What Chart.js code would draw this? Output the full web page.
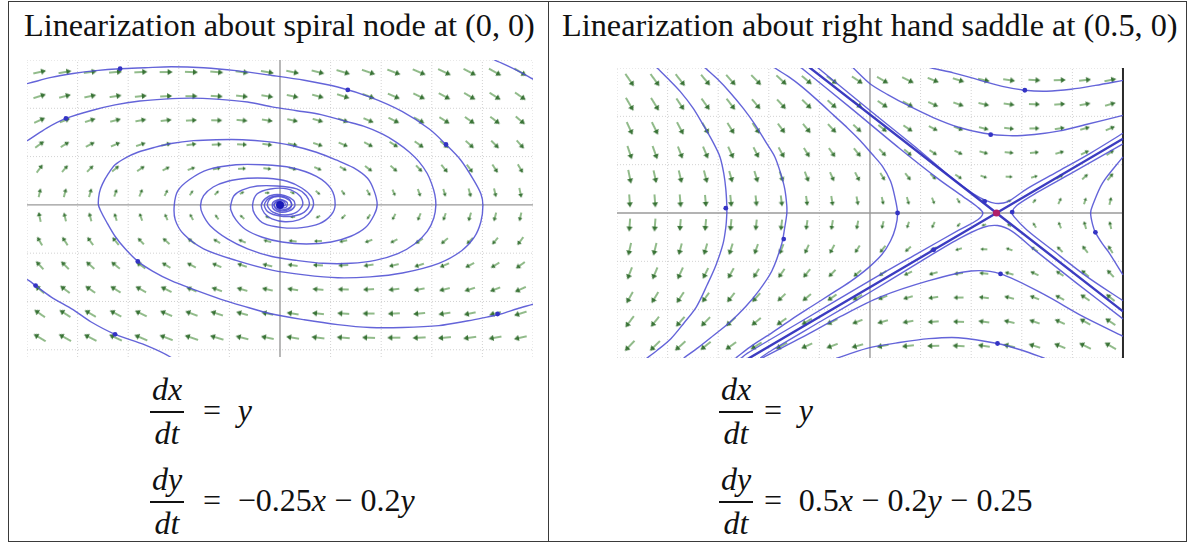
<!DOCTYPE html>
<html>
<head>
<meta charset="utf-8">
<script src="https://cdn.jsdelivr.net/npm/chart.js@4.4.1/dist/chart.umd.min.js"></script>
<style>
html,body{margin:0;padding:0;background:#fff;}
#page{position:relative;width:1193px;height:543px;overflow:hidden;background:#fff;}
.ln{position:absolute;background:#3a3a3a;}
.txt{position:absolute;white-space:nowrap;line-height:1;color:#111;font-family:"Liberation Serif","Times New Roman",serif;}
.txt i{font-style:italic;}
.op{margin:0 0.26em;}
.bar{position:absolute;background:#111;height:1.6px;}
canvas{position:absolute;}
</style>
</head>
<body>
<div id="page">
  <div class="ln" style="left:8px;top:1px;width:1179px;height:1px"></div>
  <div class="ln" style="left:8px;top:541px;width:1179px;height:1px"></div>
  <div class="ln" style="left:8px;top:1px;width:1px;height:541px"></div>
  <div class="ln" style="left:1186px;top:1px;width:1px;height:541px"></div>
  <div class="ln" style="left:548px;top:1px;width:1px;height:541px"></div>
  <div id="t1" class="txt">Linearization about spiral node at (0, 0)</div>
  <div id="t2" class="txt">Linearization about right hand saddle at (0.5, 0)</div>
  <canvas id="cL" width="516" height="307" style="left:22px;top:55px"></canvas>
  <canvas id="cR" width="517" height="300" style="left:612px;top:63px"></canvas>
</div>
<script>
// ---------------- DATA ----------------
// Left: direction field grid (x, y) and components (dx/dt, dy/dt) read for each arrow
const leftFieldX = [-4.75,-4.25,-3.75,-3.25,-2.75,-2.25,-1.75,-1.25,-0.75,-0.25,0.25,0.75,1.25,1.75,2.25,2.75,3.25,3.75,4.25,4.75];
const leftFieldY = [2.75,2.25,1.75,1.25,0.75,0.25,-0.25,-0.75,-1.25,-1.75,-2.25,-2.75];
const leftFieldU = [2.75,2.25,1.75,1.25,0.75,0.25,-0.25,-0.75,-1.25,-1.75,-2.25,-2.75];
const leftFieldV = [
 [0.64,0.51,0.39,0.26,0.14,0.01,-0.11,-0.24,-0.36,-0.49,-0.61,-0.74,-0.86,-0.99,-1.11,-1.24,-1.36,-1.49,-1.61,-1.74],
 [0.74,0.61,0.49,0.36,0.24,0.11,-0.01,-0.14,-0.26,-0.39,-0.51,-0.64,-0.76,-0.89,-1.01,-1.14,-1.26,-1.39,-1.51,-1.64],
 [0.84,0.71,0.59,0.46,0.34,0.21,0.09,-0.04,-0.16,-0.29,-0.41,-0.54,-0.66,-0.79,-0.91,-1.04,-1.16,-1.29,-1.41,-1.54],
 [0.94,0.81,0.69,0.56,0.44,0.31,0.19,0.06,-0.06,-0.19,-0.31,-0.44,-0.56,-0.69,-0.81,-0.94,-1.06,-1.19,-1.31,-1.44],
 [1.04,0.91,0.79,0.66,0.54,0.41,0.29,0.16,0.04,-0.09,-0.21,-0.34,-0.46,-0.59,-0.71,-0.84,-0.96,-1.09,-1.21,-1.34],
 [1.14,1.01,0.89,0.76,0.64,0.51,0.39,0.26,0.14,0.01,-0.11,-0.24,-0.36,-0.49,-0.61,-0.74,-0.86,-0.99,-1.11,-1.24],
 [1.24,1.11,0.99,0.86,0.74,0.61,0.49,0.36,0.24,0.11,-0.01,-0.14,-0.26,-0.39,-0.51,-0.64,-0.76,-0.89,-1.01,-1.14],
 [1.34,1.21,1.09,0.96,0.84,0.71,0.59,0.46,0.34,0.21,0.09,-0.04,-0.16,-0.29,-0.41,-0.54,-0.66,-0.79,-0.91,-1.04],
 [1.44,1.31,1.19,1.06,0.94,0.81,0.69,0.56,0.44,0.31,0.19,0.06,-0.06,-0.19,-0.31,-0.44,-0.56,-0.69,-0.81,-0.94],
 [1.54,1.41,1.29,1.16,1.04,0.91,0.79,0.66,0.54,0.41,0.29,0.16,0.04,-0.09,-0.21,-0.34,-0.46,-0.59,-0.71,-0.84],
 [1.64,1.51,1.39,1.26,1.14,1.01,0.89,0.76,0.64,0.51,0.39,0.26,0.14,0.01,-0.11,-0.24,-0.36,-0.49,-0.61,-0.74],
 [1.74,1.61,1.49,1.36,1.24,1.11,0.99,0.86,0.74,0.61,0.49,0.36,0.24,0.11,-0.01,-0.14,-0.26,-0.39,-0.51,-0.64]
];
const leftGridX = [-5,-4,-3,-2,-1,1,2,3,4,5];
const leftGridY = [-3,-2,-1,1,2,3];

// Left trajectories (x, y)
const spiralA = [[-5.05,2.5],[-4.96,2.52],[-4.52,2.64],[-4.09,2.72],[-3.64,2.78],[-3.16,2.82],[-2.67,2.84],[-2.15,2.86],[-1.51,2.84],[-0.87,2.78],[-0.16,2.68],[0.48,2.58],[1.14,2.44],[1.78,2.23],[2.42,1.93],[2.95,1.57],[3.28,1.25],[3.57,0.93],[3.82,0.53],[3.97,0.23],[4.01,-0.01],[3.97,-0.35],[3.84,-0.67],[3.59,-0.95],[3.14,-1.21],[2.42,-1.41],[1.78,-1.49],[1.14,-1.51],[0.48,-1.45],[-0.16,-1.35],[-0.87,-1.15],[-1.51,-0.91],[-1.90,-0.61],[-2.07,-0.31],[-2.09,-0.01],[-2.02,0.29],[-1.78,0.53],[-1.42,0.73],[-0.87,0.83],[-0.35,0.83],[0.23,0.77],[0.72,0.59],[1.01,0.33],[1.09,0.01],[1.01,-0.21],[0.78,-0.39],[0.43,-0.47],[0.04,-0.47],[-0.31,-0.39],[-0.50,-0.19],[-0.54,0.01],[-0.45,0.23],[-0.19,0.33],[0.14,0.33],[0.39,0.19],[0.45,0.01],[0.33,-0.15],[0.10,-0.21],[-0.14,-0.15],[-0.25,-0.01],[-0.19,0.13],[0,0.17],[0.19,0.09],[0.23,-0.01],[0.12,-0.09],[-0.04,-0.09],[-0.12,0.01],[-0.04,0.09],[0.08,0.07],[0.1,-0.01],[0,-0.03]];
const spiralB = [[-5.05,1.3],[-4.96,1.35],[-4.61,1.59],[-4.23,1.79],[-3.74,1.95],[-3.26,2.07],[-2.77,2.15],[-2.29,2.19],[-1.76,2.21],[-1.26,2.19],[-0.64,2.13],[-0.16,2.03],[0.33,1.95],[0.81,1.87],[1.30,1.73],[1.65,1.63],[2.02,1.47],[2.31,1.29],[2.56,1.09],[2.75,0.89],[2.91,0.65],[3.00,0.43],[3.06,0.21],[3.08,-0.01],[3.04,-0.27],[2.91,-0.55],[2.66,-0.81],[2.33,-1.01],[1.88,-1.15],[1.40,-1.21],[0.85,-1.21],[0.33,-1.15],[-0.16,-1.07],[-0.64,-0.91],[-1.03,-0.71],[-1.38,-0.43],[-1.53,-0.19],[-1.57,-0.01],[-1.51,0.19],[-1.32,0.37],[-1.03,0.49],[-0.64,0.55],[-0.25,0.55],[0.14,0.49],[0.43,0.35],[0.62,0.17],[0.66,-0.01],[0.56,-0.19],[0.37,-0.31],[0.10,-0.35],[-0.16,-0.29],[-0.31,-0.17],[-0.37,-0.01],[-0.29,0.13],[-0.12,0.21],[0.10,0.19],[0.27,0.09],[0.29,-0.03],[0.17,-0.13],[0,-0.15],[-0.14,-0.07],[-0.14,0.05],[0,0.11],[0.14,0.05],[0.12,-0.05],[0,-0.07]];
const spiralC = [[5.1,-2.02],[5.02,-2.05],[4.69,-2.15],[4.36,-2.26],[4.01,-2.34],[3.72,-2.40],[3.14,-2.50],[2.42,-2.54],[1.78,-2.54],[1.14,-2.48],[0.48,-2.38],[-0.16,-2.26],[-0.74,-2.09],[-1.18,-1.95],[-1.71,-1.75],[-2.15,-1.57],[-2.52,-1.37],[-2.81,-1.17],[-3.06,-0.91],[-3.26,-0.65],[-3.43,-0.35],[-3.55,-0.11],[-3.59,0.01],[-3.57,0.25],[-3.51,0.43],[-3.39,0.65],[-3.26,0.83],[-3.06,0.97],[-2.81,1.09],[-2.48,1.19],[-2.15,1.27],[-1.71,1.33],[-1.26,1.35],[-0.74,1.35],[-0.25,1.31],[0.23,1.23],[0.72,1.09],[1.11,0.93],[1.45,0.77],[1.73,0.55],[1.86,0.29],[1.92,0.01],[1.86,-0.21],[1.69,-0.47],[1.40,-0.65],[1.01,-0.77],[0.52,-0.81],[0.04,-0.77],[-0.35,-0.67],[-0.68,-0.51],[-0.87,-0.31],[-0.97,-0.11],[-0.97,0.01],[-0.91,0.19],[-0.74,0.31],[-0.45,0.39],[-0.06,0.39],[0.33,0.33],[0.52,0.19],[0.58,0.01],[0.48,-0.15],[0.27,-0.23],[0,-0.23],[-0.23,-0.15],[-0.31,-0.01],[-0.23,0.13],[-0.04,0.19],[0.17,0.13],[0.23,-0.01],[0.14,-0.11],[-0.04,-0.11],[-0.12,-0.01],[-0.04,0.07],[0.08,0.03]];
const cornerBL = [[-2.05,-3.3],[-2.15,-3.16],[-2.67,-2.90],[-3.26,-2.68],[-3.74,-2.42],[-4.09,-2.17],[-4.52,-1.91],[-4.81,-1.69],[-4.96,-1.57],[-5.05,-1.52]];
const cornerTR = [[4.11,3.09],[4.24,3.0],[4.50,2.88],[4.73,2.76],[5.04,2.58],[5.1,2.55]];
const leftStarts = [[-3.16,2.82],[-4.23,1.79],[1.34,2.38],[3.28,1.25],[-4.83,-1.67],[-2.81,-1.17],[-3.26,-2.68],[4.30,-2.26]];
const leftEquilibrium = [[0,0]];

// Right: direction field
const rightFieldX = [-0.95,-0.85,-0.75,-0.65,-0.55,-0.45,-0.35,-0.25,-0.15,-0.05,0.05,0.15,0.25,0.35,0.45,0.55,0.65,0.75,0.85,0.95];
const rightFieldY = [0.55,0.45,0.35,0.25,0.15,0.05,-0.05,-0.15,-0.25,-0.35,-0.45,-0.55];
const rightFieldU = [0.55,0.45,0.35,0.25,0.15,0.05,-0.05,-0.15,-0.25,-0.35,-0.45,-0.55];
const rightFieldV = [
 [-0.835,-0.785,-0.735,-0.685,-0.635,-0.585,-0.535,-0.485,-0.435,-0.385,-0.335,-0.285,-0.235,-0.185,-0.135,-0.085,-0.035,0.015,0.065,0.115],
 [-0.815,-0.765,-0.715,-0.665,-0.615,-0.565,-0.515,-0.465,-0.415,-0.365,-0.315,-0.265,-0.215,-0.165,-0.115,-0.065,-0.015,0.035,0.085,0.135],
 [-0.795,-0.745,-0.695,-0.645,-0.595,-0.545,-0.495,-0.445,-0.395,-0.345,-0.295,-0.245,-0.195,-0.145,-0.095,-0.045,0.005,0.055,0.105,0.155],
 [-0.775,-0.725,-0.675,-0.625,-0.575,-0.525,-0.475,-0.425,-0.375,-0.325,-0.275,-0.225,-0.175,-0.125,-0.075,-0.025,0.025,0.075,0.125,0.175],
 [-0.755,-0.705,-0.655,-0.605,-0.555,-0.505,-0.455,-0.405,-0.355,-0.305,-0.255,-0.205,-0.155,-0.105,-0.055,-0.005,0.045,0.095,0.145,0.195],
 [-0.735,-0.685,-0.635,-0.585,-0.535,-0.485,-0.435,-0.385,-0.335,-0.285,-0.235,-0.185,-0.135,-0.085,-0.035,0.015,0.065,0.115,0.165,0.215],
 [-0.715,-0.665,-0.615,-0.565,-0.515,-0.465,-0.415,-0.365,-0.315,-0.265,-0.215,-0.165,-0.115,-0.065,-0.015,0.035,0.085,0.135,0.185,0.235],
 [-0.695,-0.645,-0.595,-0.545,-0.495,-0.445,-0.395,-0.345,-0.295,-0.245,-0.195,-0.145,-0.095,-0.045,0.005,0.055,0.105,0.155,0.205,0.255],
 [-0.675,-0.625,-0.575,-0.525,-0.475,-0.425,-0.375,-0.325,-0.275,-0.225,-0.175,-0.125,-0.075,-0.025,0.025,0.075,0.125,0.175,0.225,0.275],
 [-0.655,-0.605,-0.555,-0.505,-0.455,-0.405,-0.355,-0.305,-0.255,-0.205,-0.155,-0.105,-0.055,-0.005,0.045,0.095,0.145,0.195,0.245,0.295],
 [-0.635,-0.585,-0.535,-0.485,-0.435,-0.385,-0.335,-0.285,-0.235,-0.185,-0.135,-0.085,-0.035,0.015,0.065,0.115,0.165,0.215,0.265,0.315],
 [-0.615,-0.565,-0.515,-0.465,-0.415,-0.365,-0.315,-0.265,-0.215,-0.165,-0.115,-0.065,-0.015,0.035,0.085,0.135,0.185,0.235,0.285,0.335]
];
const rightGridX = [-1,-0.8,-0.6,-0.4,-0.2,0.2,0.4,0.6,0.8];
const rightGridY = [-0.6,-0.4,-0.2,0.2,0.4,0.6];

// Right trajectories
const stableLine = [[-0.25,0.611],[0.5,0],[1.0,-0.407]];
const unstableLine = [[-0.49,-0.608],[0.5,0],[1.0,0.307]];
const leftArc1 = [[-0.86,0.62],[-0.841,0.6],[-0.795,0.552],[-0.748,0.5],[-0.698,0.432],[-0.659,0.364],[-0.62,0.292],[-0.593,0.232],[-0.578,0.164],[-0.57,0.1],[-0.566,0.032],[-0.566,-0.004],[-0.57,-0.06],[-0.581,-0.128],[-0.609,-0.216],[-0.643,-0.296],[-0.686,-0.388],[-0.736,-0.456],[-0.787,-0.52],[-0.841,-0.568],[-0.891,-0.608]];
const leftArc2 = [[-0.67,0.62],[-0.651,0.6],[-0.601,0.552],[-0.554,0.5],[-0.5,0.432],[-0.453,0.364],[-0.411,0.292],[-0.376,0.232],[-0.353,0.164],[-0.337,0.1],[-0.329,0.032],[-0.329,-0.004],[-0.337,-0.06],[-0.349,-0.128],[-0.388,-0.24],[-0.438,-0.32],[-0.492,-0.388],[-0.554,-0.452],[-0.62,-0.508],[-0.678,-0.556],[-0.736,-0.6]];
const leftArc3 = [[-0.40,0.62],[-0.376,0.6],[-0.322,0.564],[-0.271,0.524],[-0.205,0.464],[-0.143,0.404],[-0.089,0.352],[-0.039,0.3],[0.008,0.244],[0.05,0.192],[0.081,0.132],[0.097,0.072],[0.109,0.0],[0.101,-0.06],[0.081,-0.116],[0.047,-0.172],[-0.008,-0.228],[-0.078,-0.284],[-0.155,-0.336],[-0.233,-0.388],[-0.31,-0.44],[-0.388,-0.496],[-0.465,-0.548],[-0.531,-0.6]];
const hugTop = [[-0.22,0.612],[-0.205,0.6],[0,0.424],[0.194,0.26],[0.329,0.14],[0.407,0.08],[0.457,0.052],[0.496,0.04],[0.543,0.046],[0.62,0.1],[0.736,0.168],[0.872,0.248],[1.0,0.33]];
const hugRight = [[1.0,-0.363],[0.853,-0.26],[0.717,-0.15],[0.62,-0.07],[0.57,-0.016],[0.562,0.004],[0.581,0.032],[0.659,0.084],[0.795,0.164],[1.0,0.286]];
const hugBottom = [[1.0,-0.438],[0.814,-0.288],[0.659,-0.16],[0.562,-0.076],[0.504,-0.052],[0.446,-0.06],[0.349,-0.108],[0.194,-0.204],[0,-0.328],[-0.194,-0.448],[-0.388,-0.568],[-0.434,-0.6]];
const hugLeft = [[-0.29,0.615],[-0.271,0.6],[-0.078,0.436],[0.116,0.268],[0.271,0.14],[0.368,0.068],[0.426,0.024],[0.446,0],[0.426,-0.028],[0.349,-0.072],[0.194,-0.164],[0,-0.28],[-0.271,-0.448],[-0.484,-0.58],[-0.52,-0.61]];
const topArc1 = [[0.2,0.615],[0.244,0.6],[0.329,0.58],[0.426,0.552],[0.523,0.524],[0.612,0.508],[0.698,0.504],[0.795,0.512],[0.891,0.528],[1.0,0.549]];
const topArc2 = [[-0.08,0.615],[-0.066,0.6],[0.0,0.535],[0.07,0.49],[0.15,0.445],[0.25,0.395],[0.35,0.355],[0.45,0.33],[0.55,0.32],[0.65,0.325],[0.75,0.34],[0.85,0.365],[1.0,0.404]];
const rightArc = [[1.0,0.232],[0.919,0.124],[0.88,0.032],[0.872,0],[0.88,-0.048],[0.891,-0.08],[0.919,-0.128],[0.942,-0.16],[1.0,-0.256]];
const bottomArc1 = [[-0.45,-0.615],[-0.426,-0.6],[-0.271,-0.516],[-0.116,-0.428],[0.039,-0.348],[0.233,-0.28],[0.399,-0.24],[0.516,-0.252],[0.686,-0.336],[0.841,-0.428],[1.0,-0.51]];
const bottomArc2 = [[-0.15,-0.61],[-0.128,-0.6],[-0.012,-0.56],[0.116,-0.536],[0.233,-0.52],[0.349,-0.516],[0.504,-0.54],[0.601,-0.568],[0.686,-0.6],[0.71,-0.61]];
const rightStarts = [[-0.57,0.02],[-0.341,-0.108],[0.612,0.508],[0.477,0.324],[0.453,0.048],[0.516,-0.252],[0.504,-0.54],[0.891,-0.08],[0.252,-0.152],[0.109,0],[0.562,0.004]];
const rightEquilibrium = [[0.5,0]];

// ---------------- RENDER ----------------
const TRAJ = 'rgba(78,78,212,0.88)';
const GRID = '#d2d2d2';
const AXIS = '#9a9a9a';
const pairs = a => a.map(p => ({x: p[0], y: p[1]}));

const arrowCache = {};
function arrowImg(len) {
  const key = Math.round(len * 2) / 2;
  if (arrowCache[key]) return arrowCache[key];
  const w = Math.ceil(key) + 2, h = 10;
  const c = document.createElement('canvas');
  c.width = w; c.height = h;
  const g = c.getContext('2d');
  const cy = h / 2, x0 = 1, x1 = w - 1;
  const head = Math.max(2.6, Math.min(5, key * 0.42));
  g.strokeStyle = 'rgba(96,156,86,0.92)';
  g.lineWidth = 1.5;
  g.beginPath(); g.moveTo(x0, cy); g.lineTo(x1 - head * 0.7, cy); g.stroke();
  g.fillStyle = 'rgba(50,110,46,0.95)';
  g.beginPath(); g.moveTo(x1, cy); g.lineTo(x1 - head, cy - head * 0.62); g.lineTo(x1 - head, cy + head * 0.62); g.closePath(); g.fill();
  arrowCache[key] = c;
  return c;
}

function fieldDataset(X, Y, U, V, maxLen) {
  const pts = [];
  for (let r = 0; r < Y.length; r++) for (let c = 0; c < X.length; c++) pts.push({x: X[c], y: Y[r], u: U[r], v: V[r][c]});
  let maxMag = 0;
  pts.forEach(p => { maxMag = Math.max(maxMag, Math.hypot(p.u, p.v)); });
  return {
    type: 'scatter', data: pts, order: 5, pointRadius: 4, pointHoverRadius: 4, showLine: false,
    pointStyle: ctx => {
      const p = ctx.raw; if (!p || p.u === undefined) return 'circle';
      return arrowImg(Math.max(4, maxLen * Math.pow(Math.hypot(p.u, p.v) / maxMag, 0.42)));
    },
    rotation: ctx => {
      const p = ctx.raw; if (!p || p.u === undefined) return 0;
      const xs = ctx.chart.scales.x, ys = ctx.chart.scales.y;
      const kx = xs.getPixelForValue(1) - xs.getPixelForValue(0);
      const ky = ys.getPixelForValue(0) - ys.getPixelForValue(1);
      return Math.atan2(-p.v * ky, p.u * kx) * 180 / Math.PI;
    }
  };
}
function lineDs(pts, color, width, order, dash, tension) {
  return {type: 'line', data: pairs(pts), borderColor: color, borderWidth: width, pointRadius: 0, pointHoverRadius: 0,
    fill: false, tension: tension || 0, borderDash: dash || [], order: order};
}
function dotsDs(pts, color, r, order) {
  return {type: 'scatter', data: pairs(pts), backgroundColor: color, borderColor: color, borderWidth: 0, pointRadius: r, pointHoverRadius: r, order: order};
}
function gridSets(gx, gy, xr, yr) {
  const out = [];
  gx.forEach(g => out.push(lineDs([[g, yr[0]], [g, yr[1]]], GRID, 1, 20, [1, 2])));
  gy.forEach(g => out.push(lineDs([[xr[0], g], [xr[1], g]], GRID, 1, 20, [1, 2])));
  out.push(lineDs([[0, yr[0]], [0, yr[1]]], AXIS, 1.4, 15));
  out.push(lineDs([[xr[0], 0], [xr[1], 0]], AXIS, 1.4, 15));
  return out;
}
function makeChart(id, datasets, xr, yr) {
  return new Chart(document.getElementById(id), {
    type: 'scatter',
    data: {datasets},
    options: {
      responsive: false, animation: false, events: [], devicePixelRatio: 1,
      layout: {padding: 0},
      plugins: {legend: {display: false}, tooltip: {enabled: false}, title: {display: false}},
      scales: {
        x: {type: 'linear', min: xr[0], max: xr[1], display: false},
        y: {type: 'linear', min: yr[0], max: yr[1], display: false}
      }
    }
  });
}

// Left chart
const LX = [-5, 5], LY = [-3.15, 3.0];
const leftSets = [
  ...gridSets(leftGridX, leftGridY, LX, LY),
  fieldDataset(leftFieldX, leftFieldY, leftFieldU, leftFieldV, 14),
  ...[spiralA, spiralB, spiralC, cornerBL, cornerTR].map(t => lineDs(t, TRAJ, 1.4, 2, [], 0.3)),
  dotsDs(leftStarts, '#3434c4', 2.4, 1),
  dotsDs(leftEquilibrium, '#1a1ab8', 4, 0)
];
makeChart('cL', leftSets, LX, LY);

// Right chart
const RX = [-1, 1.004], RY = [-0.6, 0.6];
const rightSets = [
  ...gridSets(rightGridX, rightGridY, RX, RY),
  lineDs([[1, -0.6], [1, 0.6]], '#2a2a2a', 2, 14),
  fieldDataset(rightFieldX, rightFieldY, rightFieldU, rightFieldV, 15),
  ...[leftArc1, leftArc2, leftArc3, hugTop, hugRight, hugBottom, hugLeft, topArc1, topArc2, rightArc, bottomArc1, bottomArc2].map(t => lineDs(t, TRAJ, 1.4, 3, [], 0.3)),
  lineDs(stableLine, 'rgba(50,50,190,0.95)', 2.4, 2),
  lineDs(unstableLine, 'rgba(50,50,190,0.95)', 2.4, 2),
  dotsDs(rightStarts, '#3434c4', 2.4, 1),
  dotsDs(rightEquilibrium, '#b0206a', 3.6, 0)
];
makeChart('cR', rightSets, RX, RY);

// ---------------- TEXT ----------------
const SERIF = '"Liberation Serif","Times New Roman",serif';
const mctx = document.createElement('canvas').getContext('2d');
function textWidth(text, size, style) { mctx.font = (style || '') + ' ' + size + 'px ' + SERIF; return mctx.measureText(text).width; }
function placeAt(el, x, baseline, size, align) {
  el.style.fontSize = size + 'px';
  el.style.top = (baseline - 0.8375 * size) + 'px';
  if (align === 'center') { el.style.left = (x - 150) + 'px'; el.style.width = '300px'; el.style.textAlign = 'center'; }
  else el.style.left = x + 'px';
}
const t1 = document.getElementById('t1'), t2 = document.getElementById('t2');
const s1 = 100 * 511 / textWidth(t1.textContent, 100);
const s2 = 100 * 616 / textWidth(t2.textContent, 100);
placeAt(t1, 24, 36, s1);
placeAt(t2, 562, 36, s2);

const page = document.getElementById('page');
function addText(html, x, baseline, size, align) {
  const d = document.createElement('div'); d.className = 'txt'; d.innerHTML = html; page.appendChild(d);
  placeAt(d, x, baseline, size, align); return d;
}
function addBar(x, y, w) {
  const d = document.createElement('div'); d.className = 'bar';
  d.style.left = x + 'px'; d.style.top = (y - 0.8) + 'px'; d.style.width = w + 'px'; page.appendChild(d);
}
const EQ = 32;
function equations(cx, rhsX, line1, line2) {
  const bars = [412, 502];
  const nums = ['<i>dx</i>', '<i>dy</i>'];
  const rhs = [line1, line2];
  bars.forEach((by, k) => {
    addBar(cx - 17, by, 34);
    addText(nums[k], cx, by - 12, EQ, 'center');
    addText('<i>dt</i>', cx, by + 32, EQ, 'center');
    addText(rhs[k], rhsX, by + 9, EQ);
  });
}
equations(167, 203, '=<span class="op"></span><i>y</i>',
  '=<span class="op"></span>\u22120.25<i>x</i><span class="op">\u2212</span>0.2<i>y</i>');
equations(736, 764, '=<span class="op"></span><i>y</i>',
  '=<span class="op"></span>0.5<i>x</i><span class="op">\u2212</span>0.2<i>y</i><span class="op">\u2212</span>0.25');
</script>
</body>
</html>
